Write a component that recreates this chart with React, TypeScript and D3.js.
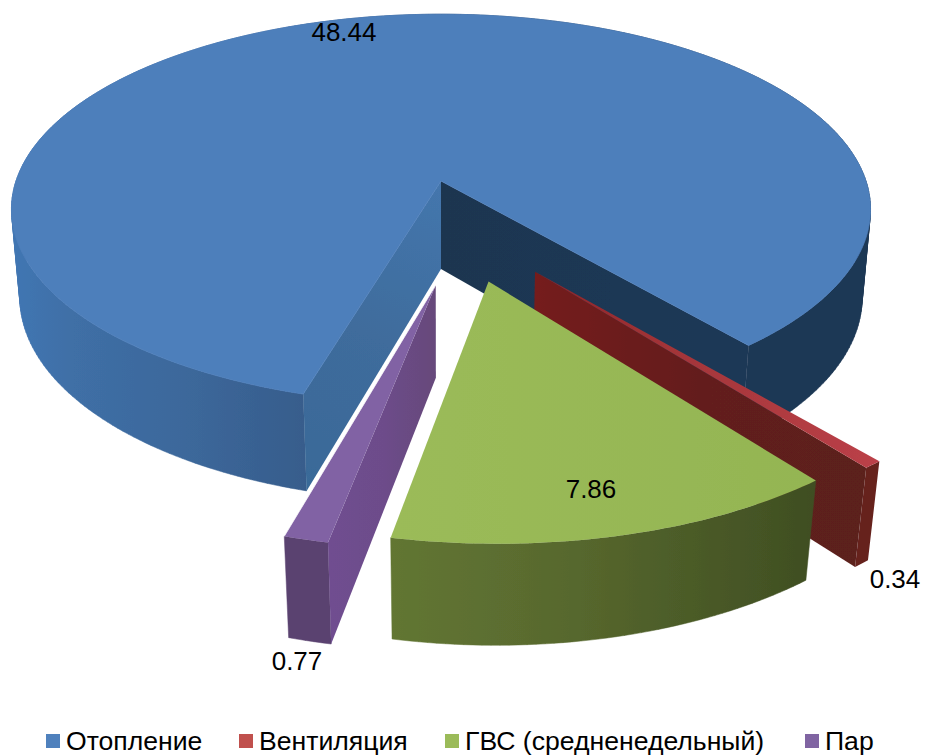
import React from "react";
import * as d3 from "d3";

const categories = ["Отопление", "Вентиляция", "ГВС (средненедельный)", "Пар"];
const values = [48.44, 0.34, 7.86, 0.77];
const labels = ["48.44", "0.34", "7.86", "0.77"];
const topColors = ["#4f81bd", "#c0504d", "#9bbb59", "#8064a2"];

// exploded offset of each slice: amount and bearing (deg clockwise from the back of the disc)
const explodeAmount = [0, 0.49, 0.5, 0.505];
const explodeBearing = [0, 155, 168, 181.3];
const labelPos: [number, number, string][] = [
  [344, 41, "middle"],
  [895, 588, "middle"],
  [591, 498, "middle"],
  [297, 670, "middle"],
];
const legendSwatchX = [46, 239, 445, 805];
const legendTextX = [66, 259, 465, 825];

const rad = Math.PI / 180;
const cam = {
  top: { cx: 441, cy: 181, a: 191, b: 425, p: 0.145 },
  bot: { cx: 441, cy: 269, a: 200, b: 417, p: 0.14 },
};

type P = [number, number];
function project(X: number, Y: number, level: "top" | "bot"): P {
  const c = cam[level];
  const k = 1 / (1 - c.p * Y);
  return [c.cx + c.b * X * k, c.cy + c.a * Y * k];
}

const pie = d3
  .pie<number>()
  .sort(null)
  .startAngle(196.2 * rad)
  .endAngle((196.2 + 360) * rad);
const arcs = pie(values);

const line = d3.line<P>().curve(d3.curveLinear);

function sliceGeom(i: number) {
  const d = arcs[i];
  const m = explodeAmount[i];
  const br = explodeBearing[i] * rad;
  const ox = m * Math.sin(br);
  const oy = -m * Math.cos(br);
  const n = Math.max(2, Math.ceil((d.endAngle - d.startAngle) / (1 * rad)));
  const angles = d3.range(n + 1).map((j) => d.startAngle + ((d.endAngle - d.startAngle) * j) / n);
  const rim = (lvl: "top" | "bot") =>
    angles.map((t) => project(Math.sin(t) + ox, -Math.cos(t) + oy, lvl));
  const apex = (lvl: "top" | "bot") => project(ox, oy, lvl);
  const rimTop = rim("top");
  const rimBot = rim("bot");
  const apexTop = apex("top");
  const apexBot = apex("bot");
  // the side is the sweep of the rim from top to bottom: one quad per step, so the silhouette follows the tangents
  const quads = d3
    .range(n)
    .map((j) => {
      const q: P[] = [rimTop[j], rimTop[j + 1], rimBot[j + 1], rimBot[j]];
      const area = d3.polygonArea(q);
      return line(area > 0 ? q : q.slice().reverse())! + "Z";
    })
    .join("");
  return {
    top: line([apexTop, ...rimTop])! + "Z",
    side: quads,
    wallStart: line([apexTop, rimTop[0], rimBot[0], apexBot])! + "Z",
    wallEnd: line([apexTop, rimTop[n], rimBot[n], apexBot])! + "Z",
    leftEdge: line([apexTop, rimTop[n]])!,
  };
}

const geoms = values.map((_, i) => sliceGeom(i));
const font = "'Liberation Sans', Arial, sans-serif";

function Grad({ id, x1, x2, y1 = 0, y2 = 0, stops }: { id: string; x1: number; x2: number; y1?: number; y2?: number; stops: [number, string][] }) {
  return (
    <linearGradient id={id} gradientUnits="userSpaceOnUse" x1={x1} x2={x2} y1={y1} y2={y2}>
      {stops.map(([o, c], i) => (
        <stop key={i} offset={o} stopColor={c} />
      ))}
    </linearGradient>
  );
}

export default function App() {
  const [blue, red, green, purple] = geoms;
  return (
    <svg width={925} height={755} viewBox="0 0 925 755" style={{ position: "absolute", left: 0, top: 0, background: "#fff" }}>
      <defs>
        <Grad id="blueSide" x1={12} x2={870} stops={[[0, "#4176b3"], [0.07, "#3f6fa6"], [0.2, "#3c689b"], [0.34, "#375d8c"], [0.6, "#1c3754"], [1, "#1c3754"]]} />
        <Grad id="blueWallL" x1={441} y1={181} x2={302} y2={490} stops={[[0, "#4476ad"], [0.5, "#3f6c9c"], [1, "#396a98"]]} />
        <Grad id="blueWallR" x1={441} x2={790} stops={[[0, "#1f3650"], [1, "#1c3858"]]} />
        <Grad id="greenSide" x1={391} x2={815} stops={[[0, "#627633"], [0.4, "#58692e"], [1, "#3f4e22"]]} />
        <Grad id="greenTop" x1={391} x2={815} stops={[[0, "#9bbb59"], [1, "#94b552"]]} />
        <Grad id="redTop" x1={537} x2={880} stops={[[0, "#8f2326"], [0.4, "#a33539"], [1, "#bb4048"]]} />
        <Grad id="redWall" x1={537} x2={880} stops={[[0, "#741b1c"], [0.5, "#631f1f"], [1, "#5a201c"]]} />
        <Grad id="purpleWall" x1={331} x2={437} stops={[[0, "#6f4e90"], [0.5, "#6d4c8a"], [1, "#66497a"]]} />
        <filter id="soft" x="-2%" y="-2%" width="104%" height="104%">
          <feGaussianBlur stdDeviation={0.5} />
        </filter>
      </defs>

      <g filter="url(#soft)">
        {/* Отопление */}
        <path d={blue.side} fill="url(#blueSide)" stroke="url(#blueSide)" strokeWidth={0.5} />
        <path d={blue.wallEnd} fill="url(#blueWallR)" />
        <path d={blue.wallStart} fill="url(#blueWallL)" />
        <path d={blue.top} fill="#4e7fbb" stroke="#4e7fbb" strokeWidth={0.8} />

        {/* Вентиляция */}
        <path d={red.side} fill="#66221f" />
        <path d={red.wallEnd} fill="url(#redWall)" />
        <path d={red.top} fill="url(#redTop)" />

        {/* ГВС */}
        <path d={green.side} fill="url(#greenSide)" stroke="url(#greenSide)" strokeWidth={0.5} />
        <path d={green.top} fill="url(#greenTop)" />

        {/* Пар */}
        <path d={purple.side} fill="#5a4270" stroke="#5a4270" strokeWidth={0.5} />
        <path d={purple.wallStart} fill="url(#purpleWall)" />
        <path d={purple.top} fill="#8162a4" />
        <path d={purple.leftEdge} fill="none" stroke="#ffffff" strokeOpacity={0.75} strokeWidth={1} />
      </g>

      {labels.map((t, i) => (
        <text key={t} x={labelPos[i][0]} y={labelPos[i][1]} textAnchor={labelPos[i][2] as any} fontFamily={font} fontSize={26} fill="#000">
          {t}
        </text>
      ))}

      {categories.map((c, i) => (
        <g key={c}>
          <rect x={legendSwatchX[i]} y={734} width={14} height={14} fill={topColors[i]} />
          <text x={legendTextX[i]} y={750} fontFamily={font} fontSize={26.6} fill="#000">
            {c}
          </text>
        </g>
      ))}
    </svg>
  );
}
